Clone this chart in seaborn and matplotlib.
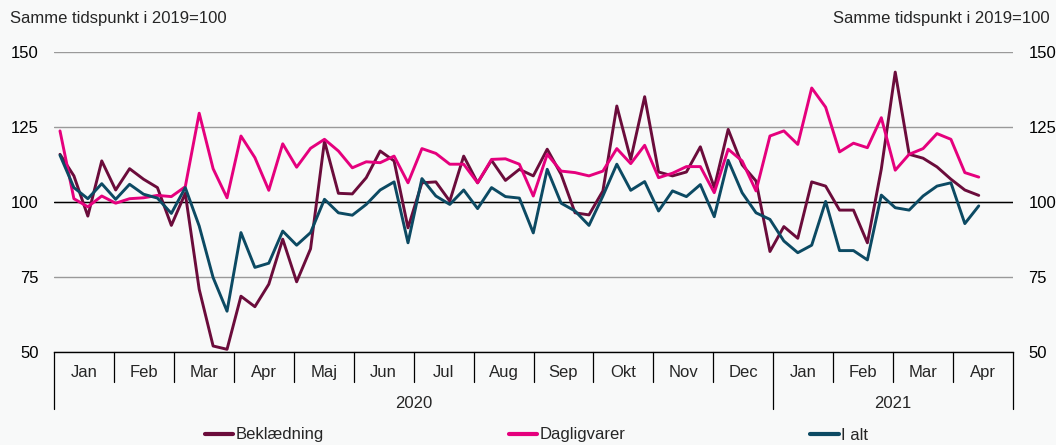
import numpy as np
import pandas as pd
import matplotlib.pyplot as plt
import seaborn as sns

# === DATA (weekly index, same week in 2019 = 100) ===
months = ["Jan", "Feb", "Mar", "Apr", "Maj", "Jun", "Jul", "Aug", "Sep", "Okt", "Nov", "Dec",
          "Jan", "Feb", "Mar", "Apr"]
years = ["2020", "2021"]
months_per_year = [12, 4]
series_names = ["Beklædning", "Dagligvarer", "I alt"]

beklaedning = [115.9, 108.7, 95.3, 113.7, 104.0, 111.1, 107.6, 104.8, 92.2, 102.9,
               70.9, 52.0, 50.9, 68.6, 65.1, 72.6, 87.6, 73.4, 84.4, 120.3,
               102.9, 102.7, 108.1, 117.0, 113.7, 91.4, 106.4, 106.7, 100.3, 115.3,
               106.4, 113.9, 107.2, 110.9, 108.7, 117.6, 109.2, 96.4, 95.7, 103.7,
               132.0, 114.2, 135.1, 110.0, 108.7, 110.0, 118.4, 104.8, 124.2, 112.4,
               107.0, 83.5, 91.8, 87.9, 106.7, 105.3, 97.3, 97.3, 86.4, 111.0,
               143.3, 115.9, 114.6, 111.7, 107.6, 104.0, 102.2]
dagligvarer = [123.7, 101.1, 98.4, 102.0, 99.6, 101.1, 101.4, 102.2, 101.8, 105.1,
               129.6, 111.1, 101.4, 122.0, 114.8, 103.9, 119.4, 111.6, 117.9, 120.9,
               117.0, 111.4, 113.4, 113.1, 115.3, 106.4, 117.8, 116.2, 112.6, 112.6,
               106.4, 114.2, 114.4, 112.6, 102.0, 115.9, 110.3, 109.8, 108.7, 110.3,
               117.8, 112.8, 118.9, 108.1, 109.6, 111.8, 111.8, 103.1, 117.6, 113.7,
               103.7, 122.0, 123.7, 119.2, 138.0, 131.6, 116.7, 119.6, 118.1, 128.1,
               110.6, 115.9, 117.8, 122.8, 120.9, 109.8, 108.3]
i_alt = [115.6, 104.8, 101.1, 106.1, 100.9, 105.9, 102.6, 101.3, 96.2, 104.8,
         92.0, 74.8, 63.6, 89.8, 78.2, 79.6, 90.3, 85.6, 89.8, 100.9,
         96.4, 95.6, 99.2, 104.0, 106.7, 86.4, 107.8, 102.0, 99.2, 104.0,
         97.8, 104.8, 101.8, 101.3, 89.7, 110.9, 99.6, 97.0, 92.2, 102.0,
         112.6, 103.9, 106.8, 97.0, 103.7, 101.8, 105.8, 95.1, 113.9, 103.1,
         96.4, 94.2, 87.0, 83.1, 85.6, 100.2, 83.8, 83.8, 80.7, 102.3,
         98.1, 97.3, 102.0, 105.3, 106.4, 92.8, 98.7]

colors = ["#6b0c3b", "#e5007d", "#0c4a63"]
BG = "#f8f9f9"

weeks = np.arange(len(i_alt))
df = pd.DataFrame({
    "uge": np.tile(weeks, 3),
    "indeks": beklaedning + dagligvarer + i_alt,
    "serie": np.repeat(series_names, len(weeks)),
})

sns.set_theme(style="white")
plt.rcParams["font.family"] = ["Liberation Sans", "DejaVu Sans"]

fig = plt.figure(figsize=(10.56, 4.45), dpi=100, facecolor=BG)
ax = fig.add_axes([54 / 1056, 1 - 352 / 445, (1013 - 54) / 1056, 300 / 445])
ax.set_facecolor(BG)

sns.lineplot(data=df, x="uge", y="indeks", hue="serie", palette=colors,
             linewidth=2.1, ax=ax, zorder=3)

# axis limits: 16 equal-width month slots
x0, x1 = -0.43, 68.46
mw = (x1 - x0) / len(months)
ax.set_xlim(x0, x1)
ax.set_ylim(50, 150)

ax.set_yticks([50, 75, 100, 125, 150])
ax.yaxis.grid(True, color="#9a9a9a", linewidth=1)
ax.axhline(100, color="black", linewidth=1, zorder=2)
ax.tick_params(axis="y", length=0, pad=11, labelsize=12, labelright=True, colors="black")
ax.set_xticks([])
ax.set_xlabel("")
ax.set_ylabel("")
for s in ["left", "right", "top"]:
    ax.spines[s].set_visible(False)
ax.spines["bottom"].set_color("black")
ax.spines["bottom"].set_linewidth(1)

# two-level category axis below the plot
trans = ax.get_xaxis_transform()
year_edges = np.cumsum([0] + months_per_year)
for k in range(len(months) + 1):
    depth = -0.19 if k in year_edges else -0.1
    xb = x0 + k * mw
    ax.plot([xb, xb], [0, depth], color="black", lw=0.9, transform=trans, clip_on=False)
for k, m in enumerate(months):
    ax.text(x0 + (k + 0.5) * mw, -0.067, m, transform=trans, ha="center", va="center", fontsize=12)
for j, y in enumerate(years):
    mid = x0 + (year_edges[j] + year_edges[j + 1]) / 2 * mw
    ax.text(mid, -0.17, y, transform=trans, ha="center", va="center", fontsize=12)

fig.text(10 / 1056, 1 - 19 / 445, "Samme tidspunkt i 2019=100", ha="left", va="center", fontsize=12)
fig.text(1050 / 1056, 1 - 19 / 445, "Samme tidspunkt i 2019=100", ha="right", va="center", fontsize=12)

handles, labels = ax.get_legend_handles_labels()
ax.get_legend().remove()
leg = fig.legend(handles, labels, loc="center", bbox_to_anchor=(0.508, 1 - 435 / 445), ncol=3,
                 frameon=False, fontsize=12, handlelength=1.7, handletextpad=0.15,
                 columnspacing=11.1)
for h in leg.get_lines():
    h.set_linewidth(3)

fig.savefig("out.png", dpi=100, facecolor=BG)
